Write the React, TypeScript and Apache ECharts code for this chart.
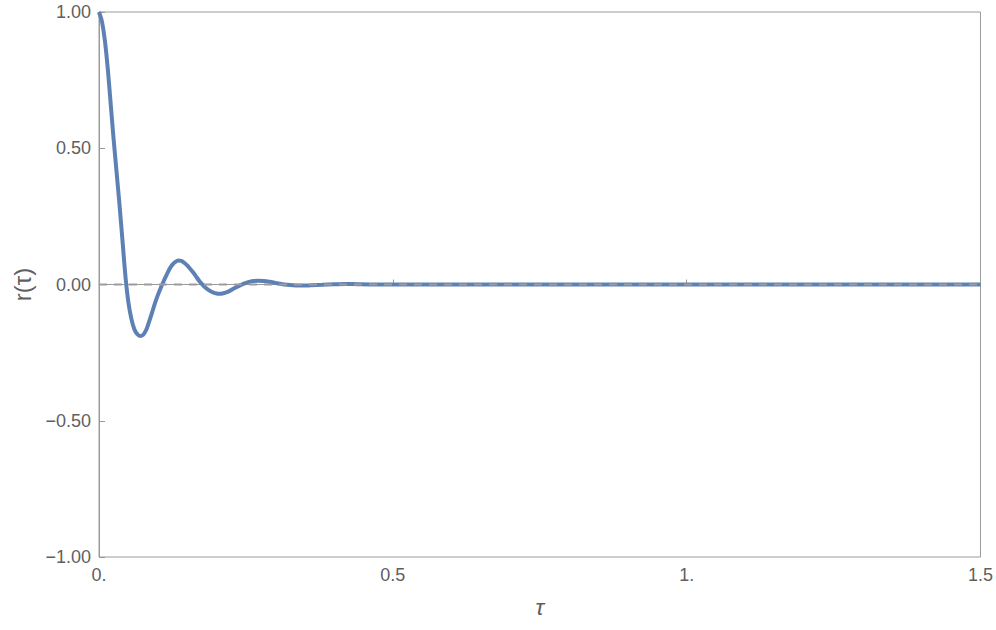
import React, { useEffect, useRef } from "react";
import * as echarts from "echarts";

// τ values and r(τ)
const tauValues: number[] = [
  0.0, 0.005, 0.01, 0.015, 0.02, 0.025, 0.03, 0.035, 0.04, 0.045,
  0.05, 0.055, 0.06, 0.065, 0.07, 0.075, 0.08, 0.085, 0.09, 0.095,
  0.1, 0.105, 0.11, 0.115, 0.12, 0.125, 0.13, 0.135, 0.14, 0.145,
  0.15, 0.155, 0.16, 0.165, 0.17, 0.175, 0.18, 0.185, 0.19, 0.195,
  0.2, 0.205, 0.21, 0.22, 0.23, 0.24, 0.25, 0.26, 0.27, 0.28,
  0.29, 0.3, 0.31, 0.32, 0.33, 0.34, 0.35, 0.36, 0.38, 0.4,
  0.42, 0.44, 0.47, 0.5, 0.6, 0.8, 1.0, 1.2, 1.5,
];
const rValues: number[] = [
  1.0, 0.965, 0.895, 0.79, 0.66, 0.53, 0.41, 0.29, 0.16, 0.03,
  -0.065, -0.125, -0.163, -0.182, -0.189, -0.185, -0.168, -0.138, -0.105, -0.07,
  -0.04, -0.013, 0.012, 0.035, 0.057, 0.073, 0.083, 0.088, 0.087, 0.08,
  0.07, 0.058, 0.045, 0.03, 0.015, 0.002, -0.009, -0.018, -0.025, -0.03,
  -0.033, -0.034, -0.033, -0.026, -0.014, -0.003, 0.006, 0.012, 0.014, 0.013,
  0.01, 0.006, 0.002, -0.001, -0.003, -0.004, -0.004, -0.003, -0.001, 0.001,
  0.002, 0.001, 0.0, 0.0, 0.0, 0.0, 0.0, 0.0, 0.0,
];

const xTicks: number[] = [0, 0.5, 1, 1.5];
const xTickLabels: string[] = ["0.", "0.5", "1.", "1.5"];
const yTicks: number[] = [-1, -0.5, 0, 0.5, 1];
const yTickLabels: string[] = ["\u22121.00", "\u22120.50", "0.00", "0.50", "1.00"];
const zeroLine: number[][] = [[0, 0], [1.5, 0]];

const FONT = "'Liberation Sans', Arial, sans-serif";
const TEXT = "#5f5f5f";
const FRAME = "#9a9a9a";

export default function App() {
  const ref = useRef<HTMLDivElement>(null);
  useEffect(() => {
    if (!ref.current) return;
    const chart = echarts.init(ref.current, undefined, { renderer: "svg" });
    const data = tauValues.map((t, i) => [t, rValues[i]]);
    const xLabel = (v: number) => {
      const i = xTicks.findIndex((t) => Math.abs(t - v) < 1e-9);
      return i >= 0 ? xTickLabels[i] : "";
    };
    const yLabel = (v: number) => {
      const i = yTicks.findIndex((t) => Math.abs(t - v) < 1e-9);
      return i >= 0 ? yTickLabels[i] : "";
    };
    chart.setOption({
      animation: false,
      backgroundColor: "#ffffff",
      grid: {
        left: 99,
        right: 15,
        top: 12,
        bottom: 73,
        show: true,
        borderColor: FRAME,
        borderWidth: 1,
      },
      xAxis: {
        type: "value",
        min: 0,
        max: 1.5,
        interval: 0.5,
        name: "\u03C4",
        nameLocation: "middle",
        nameGap: 38,
        nameTextStyle: { fontFamily: FONT, fontSize: 23, fontStyle: "italic", color: TEXT },
        axisLine: { show: true, lineStyle: { color: FRAME, width: 1 } },
        axisTick: { show: true, inside: true, length: 5, lineStyle: { color: FRAME } },
        axisLabel: { fontFamily: FONT, fontSize: 18, color: TEXT, margin: 9, formatter: xLabel },
        splitLine: { show: false },
      },
      yAxis: {
        type: "value",
        min: -1,
        max: 1,
        interval: 0.5,
        name: "r(\u03C4)",
        nameLocation: "middle",
        nameGap: 64,
        nameTextStyle: { fontFamily: FONT, fontSize: 24, color: TEXT },
        axisLine: { show: true, lineStyle: { color: FRAME, width: 1 } },
        axisTick: { show: true, inside: true, length: 6, lineStyle: { color: FRAME } },
        axisLabel: { fontFamily: FONT, fontSize: 18, color: TEXT, margin: 8, formatter: yLabel },
        splitLine: { show: false },
      },
      series: [
        {
          type: "line",
          data,
          smooth: 0.25,
          showSymbol: false,
          lineStyle: { color: "#5E81B5", width: 4 },
          z: 2,
        },
        {
          type: "line",
          data: zeroLine,
          showSymbol: false,
          lineStyle: { color: "#9c9c9c", width: 2, type: [8, 7] },
          z: 3,
        },
      ],
    });
    return () => chart.dispose();
  }, []);
  return (
    <div
      ref={ref}
      style={{ position: "fixed", left: 0, top: 0, width: 996, height: 630 }}
    />
  );
}
